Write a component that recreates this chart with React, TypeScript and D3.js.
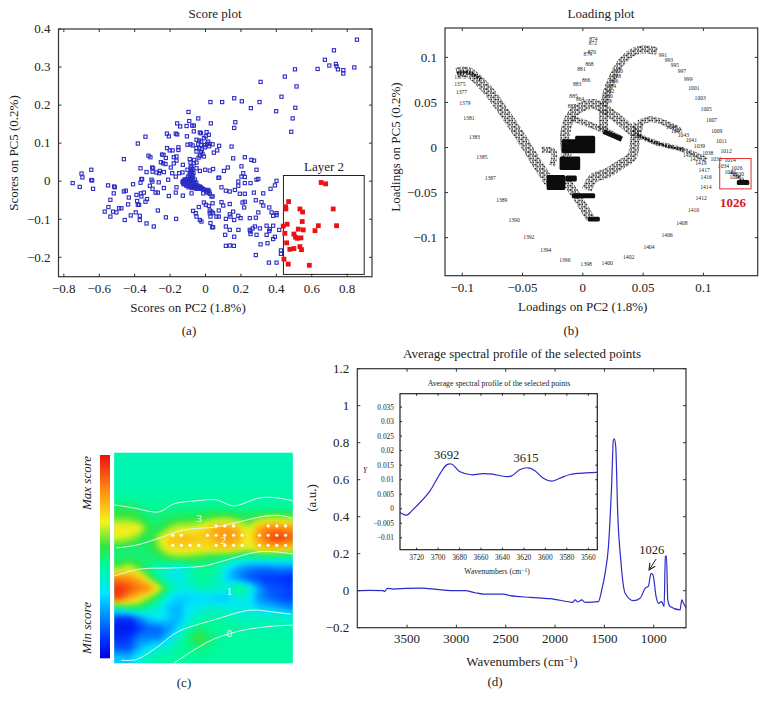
import React from "react";
import * as d3 from "d3";

// ---------- Panel (a) score plot ----------
const scoreBlue: [number, number][] = [
[.855,.372],[.725,.344],[.674,.319],[.736,.308],[.74,.302],[.699,.304],[.633,.295],[.748,.294],[.778,.292],[.778,.283],[.84,.299],[.505,.294],[.448,.275],[.311,.261],[.514,.249],[.429,.222],[.162,.218],[.205,.21],[.028,.208],[.094,.208],[.305,.208],[.256,.192],[.507,.193],[.399,.184],[.492,.165],
[-.096,.182],[-.041,.165],[-.092,.158],[.03,.152],[.168,.155],[.162,.14],[.484,.13],[-.16,.152],[-.143,.144],[-.107,.145],[-.075,.146],[-.066,.146],[-.066,.131],[-.032,.128],[-.026,.126],[.006,.129],[.019,.122],[-.168,.125],[-.16,.123],[-.218,.125],[-.207,.118],[-.105,.118],[-.339,.117],[-.382,.099],[-.153,.089],[-.153,.082],[-.217,.087],[-.202,.081],[-.186,.081],[-.102,.096],[-.085,.097],[-.073,.094],
[-.051,.109],[-.036,.107],[-.024,.104],[-.009,.113],[.002,.118],[.015,.104],[.024,.098],[.04,.097],[-.041,.097],[-.026,.095],[-.002,.095],[.009,.098],[-.051,.087],[-.036,.087],[-.021,.084],[-.004,.089],[-.026,.077],[-.051,.078],[-.009,.065],[-.032,.067],[-.039,.062],[-.017,.072],[.021,.092],[.047,.075],[.066,.081],[.077,.093],[.147,.091],[.156,.06],[.259,.056],[.222,.063],[.274,.054],
[-.461,.058],[-.322,.067],[-.311,.063],[-.367,.034],[-.333,.024],[-.301,.036],[-.296,.034],[-.299,.025],[-.277,.023],[-.258,.027],[-.262,.021],[-.235,.024],[-.252,.05],[-.239,.047],[-.226,.045],[-.245,.07],[-.237,.069],[-.224,.061],[-.196,.036],[-.179,.063],[-.164,.065],[-.164,.054],[-.179,.047],[-.188,.021],[-.168,.012],[-.149,.021],[-.128,.043],[-.13,.023],[-.102,.03],[-.089,.058],[-.064,.056],[-.085,.049],[-.066,.047],[-.051,.049],[-.079,.039],[-.051,.034],[-.032,.027],[-.002,.03],[.024,.028],[.043,.032],[.073,.009],[.077,.009],[.104,.027],[.126,.036],[.203,.039],[.213,.021],[.222,.011],[.203,.012],[.288,.03],[.185,-.001],[.222,-.005],[.254,-.005],[.288,.004],[.298,.006],
[-.75,-.005],[-.71,-.015],[-.70,.02],[-.695,.01],[-.645,.03],[-.645,.003],[-.64,.002],[-.635,-.02],[-.409,-.008],[-.55,-.011],[-.516,-.014],[-.512,-.016],[-.518,-.032],[-.537,-.049],[-.548,-.068],[-.569,-.08],[-.537,-.093],[-.522,-.08],[-.503,-.082],[-.488,-.071],[-.475,-.071],[-.456,-.102],[-.461,-.027],[-.45,-.025],[-.433,-.043],[-.437,-.061],[-.422,-.09],[-.394,-.082],[-.39,-.036],[-.386,-.052],[-.382,-.062],[-.375,-.062],[-.371,-.091],[-.371,-.102],[-.365,-.032],[-.362,-.04],[-.348,-.03],[-.362,.006],[-.358,.005],[-.367,-.004],[-.33,-.047],[-.339,-.054],[-.333,-.111],[-.292,-.119],[-.269,-.077],[-.224,-.095],[-.166,-.099],[-.305,.004],[-.3,-.001],[-.314,-.012],[-.299,-.02],[-.282,-.03],[-.269,-.03],[-.264,-.003],[-.235,-.018],[-.211,.004],[-.207,-.039],[-.168,-.03],[-.128,-.038],[-.164,-.016],[-.079,-.032],[-.013,-.032],[.015,-.023],[.021,-.027],[.024,-.033],[.034,-.04],[.04,-.04],
[-.009,-.056],[-.038,-.068],[.002,-.062],[.019,-.065],[.04,-.058],[.09,-.055],[.1,-.064],[.137,-.06],[-.07,-.078],[-.055,-.084],[-.051,-.093],[-.032,-.102],[-.023,-.106],[.024,-.077],[.024,-.084],[.034,-.08],[.075,-.077],[.043,-.084],[.028,-.093],[.062,-.093],[.075,-.093],[.028,-.11],[.038,-.121],[.043,-.121],[.115,-.119],[.111,-.141],[.115,-.099],[.141,-.093],[.137,-.087],[.156,-.08],[.162,-.102],[.137,-.128],[.186,-.128],[.162,-.146],[.115,-.17],[.137,-.169],[.16,-.17],[.185,-.091],[.198,-.097],[.25,-.097],[.284,-.096],[.209,-.056],[.222,-.054],[.218,-.069],[.284,-.05],[.316,-.055],[.36,-.069],[.326,-.064],[.298,-.082],[.373,-.082],[.401,-.089],[.382,-.091],[.401,-.084],[.273,-.03],[.326,-.032],[.367,-.02],[.401,.001],[.392,-.011],[.185,-.012],[.166,-.023],[.137,-.027],[.115,-.025],[.09,-.016],[.222,-.033],[.194,-.033],[.25,-.128],[.254,-.132],[.254,-.139],[.266,-.124],[.307,-.124],[.279,-.119],[.288,-.141],[.311,-.166],[.284,-.194],[.35,-.163],[.345,-.141],[.36,-.131],[.363,-.126],[.345,-.117],[.382,-.117],[.416,-.128],[.392,-.146],[.382,-.152],[.358,-.214],[.401,-.214],[.426,-.182],[.426,-.191],
[-.125,.001],[-.12,-.004],[-.118,.004],[-.113,-.008],[-.11,.0],[-.105,.006],[-.103,-.006],[-.1,-.012],[-.098,.012],[-.095,.0],[-.092,-.008],[-.09,.018],[-.088,.006],[-.085,-.014],[-.083,.024],[-.08,.012],[-.078,-.004],[-.075,-.018],[-.072,.002],[-.07,-.012],[-.066,-.016],[-.062,-.006],[-.058,-.018],[-.054,-.01],[-.05,-.02],[-.045,-.012],[-.04,-.018],[-.032,-.014],[-.025,-.02],[-.018,-.02],[-.008,-.022],[.006,-.024],[.012,-.03],[-.082,.03],[-.076,.026],[-.068,.022],[-.06,.004],
[-.122,-.008],[-.115,.004],[-.108,-.012],[-.1,.004],[-.096,-.016],[-.09,-.002],[-.086,-.01],[-.082,.004],[-.08,-.016],[-.076,.008],[-.074,-.008],[-.07,.014],[-.066,-.002],[-.064,-.012],[-.06,-.01],[-.056,-.014],[-.052,-.004],[-.048,-.016],[-.043,-.018],[-.037,-.015],[-.086,.016],[-.078,.018],[-.084,.036],[-.074,.032],[-.13,-.002],[-.126,-.006],[-.028,-.016],[-.022,-.018],[-.014,-.022],[.008,-.028],
];
const scoreRed: [number, number][] = [
[.653,-.0035],[.678,-.007],[.469,-.0535],[.452,-.067],[.454,-.073],[.533,-.073],[.548,-.081],[.721,-.073],[.546,-.106],[.461,-.113],[.439,-.118],[.448,-.137],[.74,-.117],[.637,-.117],[.618,-.13],[.524,-.126],[.552,-.128],[.499,-.139],[.508,-.147],[.518,-.15],[.539,-.149],[.458,-.162],[.533,-.172],[.542,-.18],[.476,-.179],[.499,-.177],[.443,-.205],[.467,-.218],[.586,-.221],
];
const scoreXTicks = [-0.8, -0.6, -0.4, -0.2, 0, 0.2, 0.4, 0.6, 0.8];
const scoreYTicks = [-0.2, -0.1, 0, 0.1, 0.2, 0.3, 0.4];
const layerBox = [0.44, 0.896, 0.015, -0.245];

// ---------- Panel (b) loading plot ----------
const loadingXTicks = [-0.1, -0.05, 0, 0.05, 0.1];
const loadingYTicks = [-0.1, -0.05, 0, 0.05, 0.1];
const loadingLabels: [string, number, number][] = [
["874",.0088,.1204],["872",.0083,.1159],["870",.0075,.1059],["879",.0041,.1037],["868",.0055,.0926],["881",-.0011,.087],["866",.0028,.0752],["883",-.0047,.0707],["885",-.0077,.0574],["864",-.0022,.0537],["887",-.0091,.0463],
["1373",-.102,.0781],["1375",-.102,.0707],["1377",-.1006,.0619],["1379",-.0978,.0493],["1381",-.0945,.0326],["1383",-.0898,.0122],["1385",-.0837,-.0100],["1387",-.0768,-.0341],["1389",-.0672,-.0581],["1390",-.057,-.0804],["1392",-.0448,-.0989],["1394",-.0307,-.1137],["1396",-.0149,-.1244],["1398",.0028,-.1289],["1400",.0202,-.1281],["1402",.038,-.1215],["1404",.0549,-.1107],["1406",.0699,-.0974],["1408",.0821,-.0833],["1410",.0918,-.0693],["1412",.0981,-.0559],["1414",.1020,-.0437],["1416",.1023,-.0330],["1417",.1006,-.0244],["1419",.0979,-.0174],["1421",.0934,-.0126],["1423",.0876,-.0081],
["991",.0664,.1022],["993",.0713,.0974],["995",.0763,.0919],["997",.0821,.0848],["999",.0874,.0759],["1001",.0921,.0659],["1003",.0973,.0548],["1005",.1023,.0430],["1007",.1067,.0307],["1009",.1111,.0185],["1011",.1150,.0070],["1012",.1188,-.0041],["1014",.1221,-.0137],["1026",.1277,-.0222],["1034",.1166,-.0200],["1036",.1105,-.0130],["1038",.1036,-.0056],["1039",.0967,.0015],["1041",.0900,.0081],["1043",.0834,.0141],["1045",.0778,.0185],["1047",.0737,.0233],
["962",.0227,.0622],["960",.0213,.0567],["958",.0205,.0511],["964",.0241,.0678],["966",.026,.0733],["968",.0282,.0796],["970",.0296,.0852],
["1032",.1221,-.0267],["1030",.1290,-.0293],["1028",.1262,-.0322],["1024",.1332,-.0389],["1726",.0094,-.0793],
];
const bandLeft: [number, number][] = [[-.1045,.0826],[-.0948,.0833],[-.0796,.0648],[-.0658,.04],[-.0492,.0067],[-.0381,-.0174],[-.0271,-.0396]];
const bandSmall: [number, number][] = [[-.034,-.0026],[-.0243,-.0044],[-.0254,-.02]];
const bandLower: [number, number][] = [[-.0146,-.0359],[-.005,-.0544],[.0061,-.0785]];
const bandColumn: [number, number][] = [[-.0133,-.01],[-.0146,.0159],[-.0091,.0363],[.0033,.0474],[.0116,.0474],[.0282,.0326],[.0448,.0141]];
const bandTail: [number, number][] = [[.0448,.0141],[.0614,.0048],[.0835,-.0026],[.1028,-.0137]];
const bandInner: [number, number][] = [[-.0091,.0326],[.0061,.0252],[.0199,.0178],[.0323,.0093]];
const bandDrop: [number, number][] = [[.0171,.0419],[.0171,.0196]];
const bandArch: [number, number][] = [[.0171,.0456],[.0227,.0715],[.0337,.0974],[.0475,.1085],[.0614,.1067]];
const bandLoop: [number, number][] = [[.0033,-.047],[.0088,-.0341],[.0199,-.0285],[.031,-.0193],[.0406,-.01],[.0434,.0085],[.0462,.027]];
const bandLoopTail: [number, number][] = [[.0462,.027],[.0558,.0315],[.0697,.0263],[.0807,.0185]];
const bandCorner: [number, number][] = [[.1221,-.0267],[.1290,-.0322],[.1365,-.0395]];
const bandInnerDark: [number, number][] = [[.0171,.0178],[.0323,.0093]];
const bandTailDark: [number, number][] = [[.0448,.0141],[.0614,.0048],[.0835,-.0026]];
const bandTopDark: [number, number][] = [[-.1045,.0826],[-.0948,.0833],[-.0850,.0760]];
// solid clusters where labels overprint: x0, x1, y0, y1
const loadingClusters: [number, number, number, number][] = [
[-.0174,-.005,.0093,-.0063],[-.0064,.0102,.013,-.0063],[-.0193,-.0022,-.01,-.0248],[-.03,-.0146,-.0304,-.047],[-.0146,-.005,-.031,-.0378],[-.009,.0102,-.0507,-.0563],[.004,.014,-.0767,-.082],[.1277,.138,-.036,-.0415],
];
const selectionBox = [.1135, .1395, -.0122, -.0459];

// ---------- Panel (c) map ----------
const mapValues: number[][] = [
[.43,.43,.43,.43,.43,.43,.43,.43,.43,.43,.43,.43,.43,.43,.43,.43,.43,.43],
[.43,.43,.43,.43,.43,.43,.43,.43,.43,.43,.43,.43,.43,.43,.43,.43,.43,.43],
[.43,.43,.43,.43,.43,.43,.43,.43,.43,.43,.43,.43,.43,.43,.43,.43,.43,.43],
[.44,.44,.44,.44,.44,.44,.44,.44,.44,.44,.44,.44,.44,.44,.44,.44,.44,.44],
[.46,.46,.45,.45,.45,.45,.45,.45,.45,.45,.45,.45,.45,.45,.45,.45,.45,.45],
[.52,.52,.5,.48,.47,.47,.48,.48,.48,.48,.48,.47,.47,.47,.46,.46,.46,.46],
[.58,.58,.55,.5,.5,.52,.53,.53,.54,.57,.59,.6,.55,.54,.58,.62,.62,.6],
[.7,.7,.68,.56,.52,.6,.66,.66,.68,.74,.8,.8,.76,.64,.78,.84,.84,.82],
[.66,.64,.58,.52,.64,.74,.76,.76,.74,.74,.8,.82,.78,.68,.8,.9,.96,.9],
[.52,.5,.5,.52,.6,.72,.72,.72,.7,.72,.74,.74,.72,.66,.74,.76,.76,.74],
[.5,.52,.5,.5,.52,.56,.58,.58,.56,.52,.5,.48,.44,.42,.42,.42,.42,.42],
[.6,.66,.58,.48,.42,.38,.34,.4,.46,.48,.44,.32,.24,.2,.18,.18,.2,.2],
[.84,.82,.76,.6,.45,.38,.36,.42,.48,.46,.42,.28,.2,.14,.12,.1,.1,.08],
[.96,.92,.86,.84,.68,.48,.38,.38,.42,.44,.4,.4,.5,.42,.25,.15,.14,.12],
[.92,.8,.72,.6,.48,.34,.3,.3,.3,.3,.28,.28,.38,.36,.22,.18,.14,.12],
[.42,.5,.5,.44,.38,.28,.26,.34,.36,.4,.4,.38,.36,.36,.3,.28,.26,.22],
[.1,.08,.2,.3,.35,.3,.26,.36,.42,.45,.44,.44,.42,.42,.42,.42,.42,.4],
[.05,.05,.1,.16,.16,.22,.32,.44,.5,.48,.47,.46,.45,.44,.44,.44,.44,.44],
[.08,.1,.2,.2,.2,.3,.42,.5,.58,.52,.47,.45,.45,.45,.45,.45,.45,.45],
[.14,.14,.26,.34,.38,.42,.46,.48,.5,.48,.46,.45,.45,.45,.45,.45,.45,.45],
[.3,.28,.38,.43,.45,.45,.46,.46,.46,.46,.45,.45,.45,.45,.45,.45,.45,.45],
];
const mapLevels: [number, number][][] = [
[[0,5.2],[1.9,5.5],[4.5,5.9],[6,5.1],[8.3,4.8],[10.3,4.7],[12,5.3],[14.7,4.5],[16.4,4.5],[18,4.8]],
[[.2,9.5],[2.3,9.2],[4.3,8.6],[7,7.7],[10.3,7.4],[13,6.8],[15.4,6.3],[17.1,6.3],[18,6.6]],
[[0,12.3],[2.6,11.6],[5.6,11.5],[9,11.3],[11.3,10.7],[14.4,9.9],[16.4,9.9],[18,10.1]],
[[.7,20.7],[2.3,20.6],[4.3,19.4],[6,18.1],[7,17.6],[10.3,16.6],[13.7,15.7],[16.1,15.9],[17.8,16.1]],
[[6,21],[8,19.7],[10,18.6],[13,17.7],[16,17.3],[18,17.2]],
];
const mapLevelLabels: [string, number, number][] = [["3",8.55,6.5],["2",11,8.75],["1",11.6,13.8],["0",11.6,18]];
const dotRow1 = [10.28,11.15,12.03,15.53,16.4,17.28];
const dotRow2 = [5.9,6.77,9.4,10.28,11.15,12.03,12.9,14.65,15.53,16.4,17.28];
const dotRow3 = [5.9,6.77,7.65,8.53,10.28,11.15,12.03,12.9,14.65,15.53,16.4,17.28];
const dotRows = [7.3, 8.23, 9.23];
const colorStops = [0, .1, .32, .46, .55, .67, .82, 1];
const colorValues = ["#0000e0","#0038ff","#00e6ff","#00fa9a","#30e440","#f4f41e","#ff9010","#ee1010"];

// ---------- Panel (d) spectrum ----------
const spectrum: [number, number][] = [
[4003,0],[3875,.002],[3740,0],[3729,-.005],[3699,.013],[3638,.009],[3503,.013],[3351,.014],[3199,.007],[2996,0],[2912,0],[2811,-.011],[2726,-.018],[2523,-.018],[2456,-.027],[2253,-.036],[2051,-.043],[1848,-.061],[1821,-.063],[1797,-.05],[1770,-.061],[1730,-.05],[1696,-.063],[1561,-.059],[1527,.004],[1493,.094],[1459,.238],[1426,.58],[1409,.814],[1399,.821],[1385,.778],[1365,.418],[1334,.166],[1290,-.014],[1206,-.054],[1138,-.041],[1088,.013],[1054,.025],[1027,.094],[1007,.085],[976,-.032],[953,-.068],[919,-.059],[895,-.086],[882,.184],[871,.189],[858,-.05],[834,-.086],[733,-.104],[716,-.05],[699,-.068],[672,-.092],
];
const insetSpectrum: [number, number][] = [
[3735.5,-.00126],[3729,-.0022],[3725,-.0009],[3708,.0059],[3698,.0122],[3692,.0151],[3687,.0153],[3680,.0128],[3669,.0117],[3658,.0121],[3649,.0119],[3638,.0111],[3631.5,.0113],[3624,.0134],[3616,.0141],[3610,.0132],[3602,.0105],[3594,.0095],[3586.5,.0105],[3577,.0118],[3568,.0122],[3552,.0125],
];
const specXTicks = [3500, 3000, 2500, 2000, 1500, 1000];
const specYTicks = [-0.2, 0, 0.2, 0.4, 0.6, 0.8, 1, 1.2];
const specYLabels = ["−0.2", "0", "0.2", "0.4", "0.6", "0.8", "1", "1.2"];
const insetXTicks = [3720, 3700, 3680, 3660, 3640, 3620, 3600, 3580, 3560];
const insetYTicks = [-0.01, -0.005, 0, 0.005, 0.01, 0.015, 0.02, 0.025, 0.03, 0.035];
const insetYLabels = ["−0.01","−0.005","0","0.005","0.01","0.015","0.02","0.025","0.03","0.035"];

const SERIF = "'Liberation Serif', serif";
const INK = "#333";
const BLUE = "#2c2cc6";
const fmt = (v: number) => String(+v.toFixed(3)).replace("-", "−");

type S = d3.ScaleLinear<number, number>;
function Frame({ x, y, xTicks, yTicks, size = 13, tick = 3, xText, yText, xGap = 16, yGap = 8, color = INK }:
  { x: S; y: S; xTicks: number[]; yTicks: number[]; size?: number; tick?: number; xText?: string[]; yText?: string[]; xGap?: number; yGap?: number; color?: string }) {
  const [x0, x1] = x.range();
  const [y0, y1] = y.range();
  return (
    <g fontFamily={SERIF} fontSize={size} fill="#222">
      <rect x={Math.min(x0, x1)} y={Math.min(y0, y1)} width={Math.abs(x1 - x0)} height={Math.abs(y1 - y0)} fill="none" stroke={color} strokeWidth={1.2} />
      {xTicks.map((t, i) => (
        <g key={t}>
          <line x1={x(t)} x2={x(t)} y1={y0} y2={y0 - tick} stroke={color} />
          <line x1={x(t)} x2={x(t)} y1={y1} y2={y1 + tick} stroke={color} />
          <text x={x(t)} y={y0 + xGap} textAnchor="middle">{xText ? xText[i] : fmt(t)}</text>
        </g>
      ))}
      {yTicks.map((t, i) => (
        <g key={t}>
          <line x1={x0} x2={x0 + tick} y1={y(t)} y2={y(t)} stroke={color} />
          <line x1={x1} x2={x1 - tick} y1={y(t)} y2={y(t)} stroke={color} />
          <text x={x0 - yGap} y={y(t) + size * 0.33} textAnchor="end">{yText ? yText[i] : fmt(t)}</text>
        </g>
      ))}
    </g>
  );
}

function Txt({ x, y, size = 13, rotate, anchor = "middle", italic, bold, fill = "#222", children }: any) {
  return (
    <text x={x} y={y} fontFamily={SERIF} fontSize={size} textAnchor={anchor} fontStyle={italic ? "italic" : undefined}
      fontWeight={bold ? "bold" : undefined} fill={fill} transform={rotate ? `rotate(${rotate} ${x} ${y})` : undefined}>
      {children}
    </text>
  );
}

function ScorePanel() {
  const x = d3.scaleLinear().domain([-0.83, 0.94]).range([58.5, 372]);
  const y = d3.scaleLinear().domain([-0.251, 0.4]).range([276.7, 29]);
  return (
    <g>
      <Txt x={215} y={18}>Score plot</Txt>
      {scoreBlue.map(([a, b], i) => (
        <rect key={i} x={x(a) - 1.6} y={y(b) - 1.6} width={3.2} height={3.2} fill="none" stroke={BLUE} strokeWidth={1.1} />
      ))}
      <rect x={x(layerBox[0])} y={y(layerBox[2])} width={x(layerBox[1]) - x(layerBox[0])} height={y(layerBox[3]) - y(layerBox[2])} fill="none" stroke="#222" strokeWidth={1} />
      {scoreRed.map(([a, b], i) => (
        <rect key={i} x={x(a) - 2.4} y={y(b) - 2.4} width={4.8} height={4.8} fill="#ee1111" />
      ))}
      <Txt x={324} y={171}>Layer 2</Txt>
      <Frame x={x} y={y} xTicks={scoreXTicks} yTicks={scoreYTicks} />
      <Txt x={188} y={312}>Scores on PC2 (1.8%)</Txt>
      <Txt x={18} y={153} rotate={-90}>Scores on PC5 (0.2%)</Txt>
      <Txt x={189} y={335}>(a)</Txt>
    </g>
  );
}

function LoadingPanel() {
  const x = d3.scaleLinear().domain([-0.1143, 0.145]).range([445, 757.7]);
  const y = d3.scaleLinear().domain([-0.1422, 0.1326]).range([275.7, 28]);
  const line = d3.line<[number, number]>().x((d) => x(d[0])).y((d) => y(d[1])).curve(d3.curveCatmullRom.alpha(0.5));
  const band = (pts: [number, number][], w: number, key: string) => (
    <path key={key} d={line(pts) ?? ""} fill="none" stroke="url(#labelTexture)" strokeWidth={w} />
  );
  return (
    <g>
      <defs>
        <pattern id="labelTexture" patternUnits="userSpaceOnUse" width={7} height={4.2}>
          <rect x={0.2} y={0.1} width={1} height={1.5} fill="#1a1a1a" />
          <rect x={1.6} y={0.1} width={1} height={1.5} fill="#1a1a1a" />
          <rect x={3.0} y={0.1} width={1} height={1.5} fill="#1a1a1a" />
          <rect x={4.4} y={0.1} width={1} height={1.5} fill="#1a1a1a" />
          <rect x={3.6} y={2.2} width={1} height={1.5} fill="#1a1a1a" />
          <rect x={5.0} y={2.2} width={1} height={1.5} fill="#1a1a1a" />
          <rect x={6.4} y={2.2} width={0.6} height={1.5} fill="#1a1a1a" />
          <rect x={0.1} y={2.2} width={0.5} height={1.5} fill="#1a1a1a" />
          <rect x={1.0} y={2.2} width={1} height={1.5} fill="#1a1a1a" />
        </pattern>
      </defs>
      <Txt x={601} y={18}>Loading plot</Txt>
      {band(bandLeft, 10.5, "left")}
      {band(bandSmall, 6, "small")}
      {band(bandLower, 9, "lower")}
      {band(bandColumn, 10, "col")}
      {band(bandTail, 5, "tail")}
      {band(bandInner, 6, "inner")}
      {band(bandDrop, 9, "drop")}
      {band(bandArch, 8, "arch")}
      {band(bandLoop, 10, "loop")}
      {band(bandLoopTail, 6, "looptail")}
      {band(bandCorner, 4, "corner")}
      <path d={line(bandInnerDark) ?? ""} fill="none" stroke="#111" strokeWidth={5} />
      <path d={line(bandTailDark) ?? ""} fill="none" stroke="#111" strokeWidth={2.5} strokeDasharray="2 1" />
      <path d={line(bandTopDark) ?? ""} fill="none" stroke="#111" strokeWidth={3} strokeDasharray="2 1" />
      {loadingClusters.map(([a, b, c, d], i) => (
        <rect key={i} x={x(a)} y={y(c)} width={x(b) - x(a)} height={y(d) - y(c)} fill="#0c0c0c" rx={1.5} />
      ))}
      {loadingLabels.map(([s, a, b]) => (
        <text key={s} x={x(a)} y={y(b) + 2} fontFamily={SERIF} fontSize={5.6} textAnchor="middle" fill="#222">{s}</text>
      ))}
      <rect x={x(selectionBox[0])} y={y(selectionBox[2])} width={x(selectionBox[1]) - x(selectionBox[0])} height={y(selectionBox[3]) - y(selectionBox[2])} fill="none" stroke="#e03030" strokeWidth={1} />
      <Txt x={733} y={207} size={13} bold fill="#e0101c">1026</Txt>
      <Frame x={x} y={y} xTicks={loadingXTicks} yTicks={loadingYTicks} />
      <Txt x={582.7} y={311}>Loadings on PC2 (1.8%)</Txt>
      <Txt x={400} y={147} rotate={-90}>Loadings on PC5 (0.2%)</Txt>
      <Txt x={571} y={335}>(b)</Txt>
    </g>
  );
}

function MapPanel() {
  const cols = mapValues[0].length;
  const rows = mapValues.length;
  const pad = 3;
  const x0 = 114.3, x1 = 292.7, y0 = 452.7, y1 = 663.3;
  const cx = d3.scaleLinear().domain([0, cols]).range([x0, x1]);
  const cy = d3.scaleLinear().domain([0, rows]).range([y0, y1]);
  const color = d3.scaleLinear<string>().domain(colorStops).range(colorValues).interpolate(d3.interpolateRgb);
  const w = cols + pad * 2, h = rows + pad * 2;
  const flat: number[] = [];
  for (let r = 0; r < h; r++) {
    const rr = Math.max(0, Math.min(rows - 1, r - pad));
    for (let c = 0; c < w; c++) flat.push(mapValues[rr][Math.max(0, Math.min(cols - 1, c - pad))]);
  }
  const thresholds = d3.range(0, 1.001, 0.0125);
  const bands = d3.contours().size([w, h]).thresholds(thresholds)(flat);
  const proj = d3.geoTransform({
    point(px: number, py: number) {
      (this as any).stream.point(cx(px - pad), cy(py - pad));
    },
  });
  const geo = d3.geoPath(proj);
  const levelLine = d3.line<[number, number]>().x((d) => cx(d[0])).y((d) => cy(d[1])).curve(d3.curveCatmullRom.alpha(0.5));
  const barY0 = 455, barY1 = 658.3;
  return (
    <g>
      <defs>
        <clipPath id="mapClip"><rect x={x0} y={y0} width={x1 - x0} height={y1 - y0} /></clipPath>
        <filter id="mapBlur" x="-5%" y="-5%" width="110%" height="110%" colorInterpolationFilters="sRGB"><feGaussianBlur stdDeviation="2.6" /></filter>
        <linearGradient id="barGrad" x1="0" x2="0" y1="1" y2="0">
          {colorStops.map((s, i) => <stop key={s} offset={s} stopColor={colorValues[i]} />)}
        </linearGradient>
      </defs>
      <rect x={100} y={barY0} width={10} height={barY1 - barY0} fill="url(#barGrad)" />
      <g clipPath="url(#mapClip)">
        <rect x={x0} y={y0} width={x1 - x0} height={y1 - y0} fill={color(0.43)} />
        <g filter="url(#mapBlur)">
          {bands.map((b, i) => <path key={i} d={geo(b as any) ?? ""} fill={color(b.value)} stroke={color(b.value)} strokeWidth={0.3} />)}
        </g>
        {mapLevels.map((l, i) => <path key={i} d={levelLine(l) ?? ""} fill="none" stroke="#e8f4ec" strokeWidth={1} />)}
        {[dotRow1, dotRow2, dotRow3].map((row, i) => row.map((c) => (
          <circle key={`${i}-${c}`} cx={cx(c)} cy={cy(dotRows[i])} r={1.6} fill="#fff" />
        )))}
        {mapLevelLabels.map(([s, a, b]) => (
          <text key={s} x={cx(a)} y={cy(b) + 4} fontFamily={SERIF} fontSize={11} textAnchor="middle" fill="#f4fff4">{s}</text>
        ))}
      </g>
      <Txt x={91} y={483} rotate={-90} italic size={13} anchor="middle">Max score</Txt>
      <Txt x={91} y={628} rotate={-90} italic size={13} anchor="middle">Min score</Txt>
      <Txt x={184} y={687}>(c)</Txt>
    </g>
  );
}

function SpectrumPanel() {
  const x = d3.scaleLinear().domain([4004, 673]).range([357.3, 686]);
  const y = d3.scaleLinear().domain([-0.2, 1.2]).range([627.7, 368.7]);
  const line = d3.line<[number, number]>().x((d) => x(d[0])).y((d) => y(d[1])).curve(d3.curveMonotoneX);
  const ix = d3.scaleLinear().domain([3735.5, 3551.6]).range([400, 597.3]);
  const iy = d3.scaleLinear().domain([-0.0141, 0.0396]).range([549.7, 393.7]);
  const iline = d3.line<[number, number]>().x((d) => ix(d[0])).y((d) => iy(d[1])).curve(d3.curveCatmullRom.alpha(0.5));
  return (
    <g>
      <defs>
        <marker id="arrow" viewBox="0 0 10 10" refX="9" refY="5" markerWidth="8" markerHeight="8" orient="auto">
          <path d="M1 1 L9 5 L1 9" fill="none" stroke="#222" strokeWidth={1.4} />
        </marker>
      </defs>
      <Txt x={522} y={358} size={13}>Average spectral profile of the selected points</Txt>
      <path d={line(spectrum) ?? ""} fill="none" stroke={BLUE} strokeWidth={1.2} />
      <Frame x={x} y={y} xTicks={specXTicks} yTicks={specYTicks} yText={specYLabels} tick={3} xGap={15} />
      <Txt x={x(1020)} y={y(0.198)} size={12.6}>1026</Txt>
      <line x1={x(976)} y1={y(0.171)} x2={x(1047)} y2={y(0.112)} stroke="#222" strokeWidth={1} markerEnd="url(#arrow)" />
      <Txt x={522} y={666} size={13}>
        Wavenumbers (cm<tspan dy={-4} fontSize={9}>−1</tspan><tspan dy={4}>)</tspan>
      </Txt>
      <Txt x={316} y={498} rotate={-90} size={13}>(a.u.)</Txt>
      <Txt x={495} y={686}>(d)</Txt>
      <Txt x={499} y={385.5} size={7.8}>Average spectral profile of the selected points</Txt>
      <path d={iline(insetSpectrum) ?? ""} fill="none" stroke={BLUE} strokeWidth={1.2} />
      <Frame x={ix} y={iy} xTicks={insetXTicks} yTicks={insetYTicks} yText={insetYLabels} size={7.4} tick={2} xGap={10} yGap={6} color="#222" />
      <Txt x={ix(3692)} y={iy(0.0172)} size={12.6}>3692</Txt>
      <Txt x={ix(3618)} y={iy(0.016)} size={12.6}>3615</Txt>
      <Txt x={365} y={473} size={7.4} italic>Y</Txt>
      <Txt x={497} y={574} size={7.6}>
        Wavenumbers (cm<tspan dy={-2.5} fontSize={5.5}>−1</tspan><tspan dy={2.5}>)</tspan>
      </Txt>
    </g>
  );
}

export default function App() {
  return (
    <svg width={766} height={709} viewBox="0 0 766 709" style={{ position: "absolute", left: 0, top: 0, background: "#fff" }}>
      <ScorePanel />
      <LoadingPanel />
      <MapPanel />
      <SpectrumPanel />
    </svg>
  );
}
